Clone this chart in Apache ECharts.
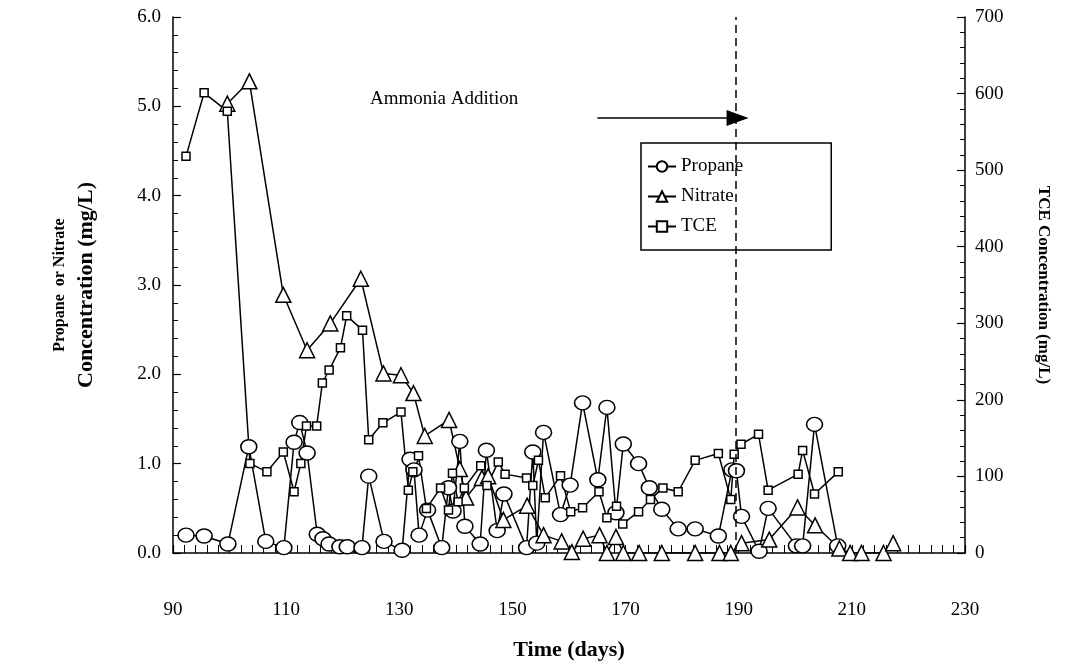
<!DOCTYPE html>
<html>
<head>
<meta charset="utf-8">
<script src="https://cdn.jsdelivr.net/npm/echarts@6/dist/echarts.min.js"></script>
<style>html,body{margin:0;padding:0;background:#fff}#c{width:1073px;height:667px}</style>
</head>
<body>
<div id="c"></div>
<script>
// 丙烷 (mg/L)
const propaneDays = [92.3, 95.5, 99.7, 103.4, 106.4, 109.6, 111.4, 112.4, 113.7, 115.5, 116.5, 117.6, 119.5, 120.8, 123.4, 124.6, 127.3, 130.5, 131.9, 132.6, 133.5, 135, 137.5, 138.7, 139.5, 140.7, 141.6, 144.3, 145.4, 147.3, 148.5, 152.5, 153.6, 154.3, 155.5, 158.5, 160.2, 162.4, 165.1, 166.7, 168.3, 169.6, 172.3, 174.2, 176.4, 179.3, 182.3, 186.4, 188.8, 189.6, 190.5, 193.6, 195.2, 200.2, 201.3, 203.4, 207.5];
const propaneVals = [0.2, 0.19, 0.1, 1.19, 0.13, 0.06, 1.24, 1.46, 1.12, 0.21, 0.16, 0.1, 0.07, 0.07, 0.06, 0.86, 0.13, 0.03, 1.05, 0.93, 0.2, 0.48, 0.06, 0.73, 0.47, 1.25, 0.3, 0.1, 1.15, 0.25, 0.66, 0.06, 1.13, 0.11, 1.35, 0.43, 0.76, 1.68, 0.82, 1.63, 0.45, 1.22, 1.0, 0.73, 0.49, 0.27, 0.27, 0.19, 0.93, 0.92, 0.41, 0.02, 0.5, 0.08, 0.08, 1.44, 0.08];
// 硝酸盐 (mg/L)
const nitrateDays = [99.6, 103.5, 109.5, 113.7, 117.8, 123.2, 127.2, 130.3, 132.5, 134.5, 138.8, 140.7, 141.8, 144.6, 145.7, 148.4, 152.6, 155.5, 158.7, 160.5, 162.5, 165.4, 166.7, 168.3, 169.6, 172.4, 176.4, 182.3, 186.6, 188.6, 190.5, 195.4, 200.4, 203.5, 207.8, 209.7, 211.7, 215.6, 217.3];
const nitrateVals = [5.03, 5.28, 2.89, 2.27, 2.57, 3.07, 2.01, 1.99, 1.79, 1.31, 1.49, 0.94, 0.62, 0.84, 0.86, 0.37, 0.53, 0.2, 0.13, 0.01, 0.16, 0.2, 0, 0.18, 0, 0, 0, 0, 0, 0, 0.11, 0.15, 0.51, 0.31, 0.05, 0, 0, 0, 0.11];
// TCE (mg/L, 右轴)
const tceDays = [92.3, 95.5, 99.6, 103.6, 106.6, 109.5, 111.4, 112.6, 113.6, 115.4, 116.4, 117.6, 119.6, 120.7, 123.5, 124.6, 127.1, 130.3, 131.6, 132.4, 133.4, 134.8, 137.3, 138.7, 139.4, 140.4, 141.5, 144.4, 145.5, 147.5, 148.7, 152.5, 153.6, 154.6, 155.8, 158.5, 160.3, 162.4, 165.3, 166.7, 168.4, 169.5, 172.3, 174.4, 176.6, 179.3, 182.3, 186.4, 188.6, 189.2, 190.4, 193.5, 195.2, 200.5, 201.3, 203.4, 207.6];
const tceVals = [518, 601, 577, 117, 106, 132, 80, 117, 166, 166, 222, 239, 268, 310, 291, 148, 170, 184, 82, 106, 127, 58, 85, 56, 104, 67, 85, 114, 88, 119, 103, 98, 88, 121, 72, 101, 54, 59, 80, 46, 61, 38, 54, 70, 85, 80, 121, 130, 70, 129, 142, 155, 82, 103, 134, 77, 106];
const xTicks = [90, 110, 130, 150, 170, 190, 210, 230];
const ammoniaDay = 189.5;

const zip = (a, b) => a.map((d, i) => [d, b[i]]);
const font = '"Times New Roman", "Liberation Serif", serif';

const chart = echarts.init(document.getElementById('c'));
const baseAxis = {
  axisLine: { show: true, lineStyle: { color: '#000', width: 1.5 } },
  axisTick: { show: true, inside: true, length: 8, lineStyle: { color: '#000', width: 1.2 } },
  minorTick: { show: true, splitNumber: 5, length: 5, lineStyle: { color: '#000' } },
  splitLine: { show: false },
  axisLabel: { color: '#000', fontFamily: font, fontSize: 19, margin: 10 }
};
const lineSeries = (name, data, symbol, size, yIdx) => ({
  name, type: 'line', data, yAxisIndex: yIdx, symbol, symbolSize: size,
  showAllSymbol: true, animation: false,
  lineStyle: { color: '#000', width: 1.5 },
  itemStyle: { color: '#fff', borderColor: '#000', borderWidth: 1.5 }
});

chart.setOption({
  animation: false,
  grid: { left: 173, right: 108, top: 17, bottom: 114 },
  xAxis: Object.assign({}, baseAxis, {
    type: 'value', min: 90, max: 230, interval: 20,
    minorTick: { show: true, splitNumber: 10, length: 8, lineStyle: { color: '#000' } },
    axisLabel: { color: '#000', fontFamily: font, fontSize: 19, margin: 48,
      formatter: v => xTicks.includes(v) ? String(v) : '' }
  }),
  yAxis: [
    Object.assign({}, baseAxis, { type: 'value', min: 0, max: 6, interval: 1,
      axisLabel: { color: '#000', fontFamily: font, fontSize: 19, margin: 12, formatter: v => v.toFixed(1) } }),
    Object.assign({}, baseAxis, { type: 'value', min: 0, max: 700, interval: 100, position: 'right' })
  ],
  legend: {
    orient: 'vertical', left: 641, top: 143, width: 190, padding: [14, 88, 14, 6],
    backgroundColor: '#fff', borderColor: '#000', borderWidth: 1.5, itemGap: 11,
    itemWidth: 28, itemHeight: 13,
    textStyle: { fontFamily: font, fontSize: 19, color: '#000' },
    data: ['Propane', 'Nitrate', 'TCE']
  },
  series: [
    lineSeries('Propane', zip(propaneDays, propaneVals), 'circle', [16, 14], 0),
    lineSeries('Nitrate', zip(nitrateDays, nitrateVals), 'triangle', 15, 0),
    Object.assign(lineSeries('TCE', zip(tceDays, tceVals), 'rect', 8, 1), {
      markLine: {
        silent: true, symbol: 'none', label: { show: false },
        lineStyle: { color: '#000', type: [8, 5], width: 1.5 },
        data: [{ xAxis: ammoniaDay }]
      }
    }),
    {
      type: 'line', data: [], yAxisIndex: 0,
      markLine: {
        silent: true, symbol: ['none', 'triangle'], symbolSize: [16, 22], label: { show: false },
        lineStyle: { color: '#000', type: 'solid', width: 1.5 },
        data: [[{ coord: [165, 4.87] }, { coord: [189.8, 4.87] }]]
      }
    }
  ],
  graphic: [
    { type: 'text', left: 370, top: 90, style: { text: 'Ammonia Addition', font: '19px ' + font, fill: '#000' } },
    { type: 'text', x: 60, y: 285, rotation: Math.PI / 2, style: { text: 'Propane  or Nitrate', font: 'bold 16px ' + font, fill: '#000', align: 'center', verticalAlign: 'middle' } },
    { type: 'text', x: 86, y: 285, rotation: Math.PI / 2, style: { text: 'Concentration (mg/L)', font: 'bold 22px ' + font, fill: '#000', align: 'center', verticalAlign: 'middle' } },
    { type: 'text', x: 1043, y: 285, rotation: -Math.PI / 2, style: { text: 'TCE Concentration (mg/L)', font: 'bold 17px ' + font, fill: '#000', align: 'center', verticalAlign: 'middle' } },
    { type: 'text', x: 569, y: 650, style: { text: 'Time (days)', font: 'bold 22px ' + font, fill: '#000', align: 'center', verticalAlign: 'middle' } }
  ]
});
</script>
</body>
</html>
